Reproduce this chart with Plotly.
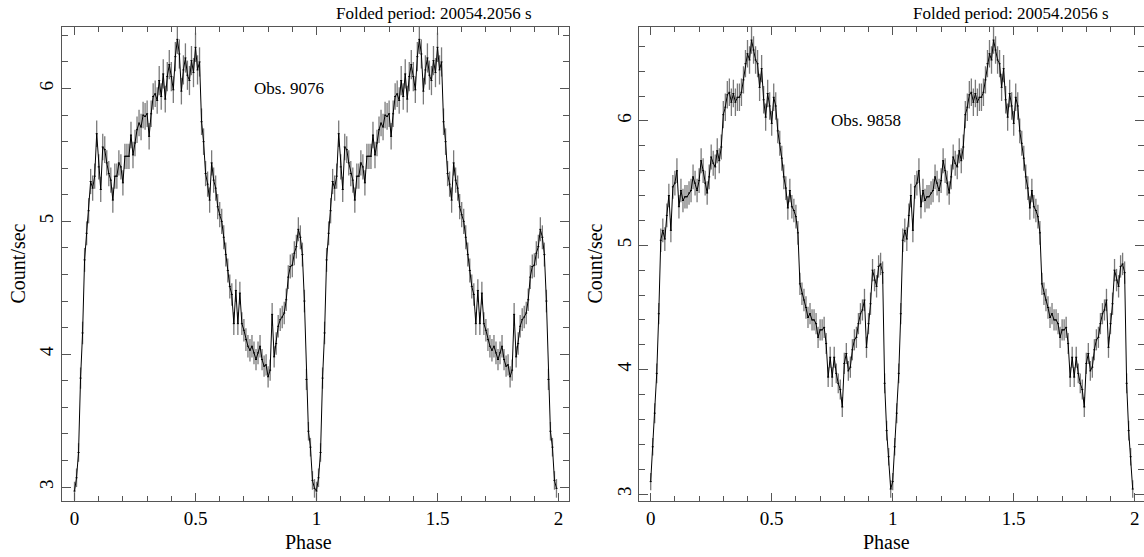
import numpy as np
import plotly.graph_objects as go

# ---------------- data (one folded cycle, 120 phase bins; repeated for phase 1-2) ----------------
N_BINS = 120

rate_9076 = [
    2.97, 3.07, 3.26, 3.82, 4.16, 4.71, 4.91, 5.08, 5.30, 5.25,
    5.34, 5.66, 5.41, 5.24, 5.56, 5.54, 5.44, 5.36, 5.31, 5.16,
    5.34, 5.34, 5.44, 5.41, 5.29, 5.49, 5.49, 5.49, 5.65, 5.50,
    5.59, 5.69, 5.74, 5.71, 5.80, 5.79, 5.81, 5.64, 5.81, 5.94,
    5.96, 5.91, 6.06, 5.94, 6.11, 5.92, 6.09, 6.18, 6.09, 5.99,
    6.24, 6.37, 6.26, 5.98, 6.14, 6.23, 6.10, 6.06, 6.21, 6.12,
    6.31, 6.14, 6.20, 5.75, 5.60, 5.36, 5.28, 5.16, 5.44, 5.31,
    5.25, 5.11, 5.05, 5.00, 4.88, 4.75, 4.63, 4.51, 4.45, 4.23,
    4.48, 4.23, 4.46, 4.23, 4.18, 4.11, 4.06, 4.03, 4.06, 4.01,
    3.96, 4.01, 4.06, 3.96, 3.91, 3.92, 3.83, 3.88, 4.30, 3.98,
    4.08, 4.21, 4.26, 4.28, 4.31, 4.41, 4.58, 4.66, 4.67, 4.76,
    4.81, 4.94, 4.88, 4.75, 4.40, 3.81, 3.42, 3.30, 3.05, 2.99,
]
err_9076 = [
    .07, .07, .07, .08, .085, .09, .09, .095, .095, .095,
    .095, .10, .095, .095, .10, .10, .095, .095, .095, .095,
    .095, .095, .095, .095, .095, .095, .095, .095, .10, .10,
    .10, .10, .10, .10, .10, .10, .10, .10, .10, .10,
    .10, .10, .11, .10, .11, .10, .11, .11, .11, .10,
    .11, .11, .11, .10, .11, .11, .11, .11, .11, .11,
    .11, .11, .11, .10, .10, .095, .095, .095, .095, .095,
    .095, .095, .095, .095, .09, .09, .09, .09, .085, .085,
    .085, .085, .085, .085, .085, .085, .085, .085, .085, .085,
    .08, .085, .085, .08, .08, .08, .08, .08, .085, .08,
    .085, .085, .085, .085, .085, .085, .09, .09, .09, .09,
    .09, .09, .09, .09, .085, .08, .07, .07, .07, .07,
]

rate_9858 = [
    3.10, 3.38, 3.65, 3.97, 4.45, 5.04, 5.12, 5.05, 5.24, 5.40,
    5.12, 5.47, 5.50, 5.60, 5.31, 5.44, 5.36, 5.39, 5.39, 5.42,
    5.44, 5.55, 5.50, 5.44, 5.52, 5.68, 5.60, 5.50, 5.42, 5.55,
    5.71, 5.66, 5.63, 5.76, 5.68, 5.79, 6.05, 6.11, 6.21, 6.23,
    6.15, 6.22, 6.15, 6.19, 6.19, 6.23, 6.33, 6.46, 6.54, 6.49,
    6.65, 6.57, 6.49, 6.46, 6.27, 6.42, 6.17, 6.03, 6.22, 6.12,
    5.98, 6.19, 6.12, 5.92, 5.82, 5.70, 5.55, 5.46, 5.30, 5.44,
    5.31, 5.28, 5.23, 5.10, 4.69, 4.61, 4.56, 4.50, 4.42, 4.45,
    4.40, 4.40, 4.37, 4.26, 4.32, 4.32, 4.34, 4.21, 3.94, 4.10,
    3.94, 4.10, 3.97, 3.89, 3.84, 3.70, 4.05, 4.13, 3.99, 4.02,
    4.16, 4.24, 4.26, 4.37, 4.45, 4.48, 4.56, 4.18, 4.37, 4.53,
    4.80, 4.72, 4.67, 4.83, 4.85, 4.78, 3.89, 3.51, 3.30, 3.04,
]
err_9858 = [
    .07, .07, .08, .08, .085, .095, .095, .095, .095, .095,
    .095, .095, .10, .10, .095, .095, .095, .095, .095, .095,
    .095, .10, .10, .095, .10, .10, .10, .10, .095, .10,
    .10, .10, .10, .10, .10, .10, .11, .11, .11, .11,
    .11, .11, .11, .11, .11, .11, .11, .11, .11, .11,
    .11, .11, .11, .11, .11, .11, .11, .11, .11, .11,
    .10, .11, .11, .10, .10, .10, .10, .095, .095, .095,
    .095, .095, .095, .095, .09, .09, .09, .09, .085, .085,
    .085, .085, .085, .085, .085, .085, .085, .085, .08, .085,
    .08, .085, .08, .08, .08, .08, .085, .085, .08, .085,
    .085, .085, .085, .085, .085, .085, .09, .085, .085, .09,
    .09, .09, .09, .09, .09, .09, .08, .08, .07, .07,
]

obs_labels = ["Obs. 9076", "Obs. 9858"]
period_label = "Folded period: 20054.2056 s"
x_title = "Phase"
y_title = "Count/sec"
x_tickvals = [0, 0.5, 1, 1.5, 2]
x_ticktext = ["0", "0.5", "1", "1.5", "2"]
y_tickvals = [3, 4, 5, 6]
y_ticktext = ["3", "4", "5", "6"]

# ---------------- figure ----------------
phase_one = np.arange(N_BINS) / N_BINS
phase = np.concatenate([phase_one, phase_one + 1.0])

FONT = "Liberation Serif, Times New Roman, serif"
AXC = "#555555"

fig = go.Figure()

panels = [
    dict(rate=rate_9076, err=err_9076, xa="x", ya="y",
         xdom=[62 / 1144, 569 / 1144], xr=[-0.0517, 2.0434], yr=[2.895, 6.463],
         period_x=434 / 1144, phase_x=308 / 1144, ytitle_x=17.5 / 1144, label=obs_labels[0]),
    dict(rate=rate_9858, err=err_9858, xa="x2", ya="y2",
         xdom=[639.3 / 1144, 1.0], xr=[-0.0471, 2.0384], yr=[2.944, 6.755],
         period_x=1011 / 1144, phase_x=886 / 1144, ytitle_x=594.5 / 1144, label=obs_labels[1]),
]

for k, p in enumerate(panels):
    y = np.concatenate([p["rate"], p["rate"]])
    e = np.concatenate([p["err"], p["err"]])
    # error bars (gray vertical, tiny black horizontal)
    fig.add_trace(go.Scatter(
        x=phase, y=y, mode="markers", xaxis=p["xa"], yaxis=p["ya"],
        marker=dict(size=1, color="rgba(0,0,0,0)"),
        error_y=dict(type="data", array=e, color="#7a7a7a", thickness=1.3, width=0),
        error_x=dict(type="constant", value=0.5 / N_BINS, color="#000000", thickness=1, width=0),
        showlegend=False, hoverinfo="skip"))
    # connecting line
    fig.add_trace(go.Scatter(
        x=phase, y=y, mode="lines", xaxis=p["xa"], yaxis=p["ya"],
        line=dict(color="black", width=1), showlegend=False))

    sfx = "" if k == 0 else "2"
    common = dict(showline=True, linecolor=AXC, linewidth=1.2, mirror="allticks",
                  ticks="inside", tickcolor=AXC, tickwidth=1, showgrid=False, zeroline=False,
                  tickfont=dict(family=FONT, size=19, color="black"))
    fig.update_layout(**{
        "xaxis" + sfx: dict(domain=p["xdom"], range=p["xr"], anchor="y" + sfx,
                            tickvals=x_tickvals, ticktext=x_ticktext, ticklen=8,
                            minor=dict(dtick=0.1, tick0=0, ticklen=5, ticks="inside",
                                       tickcolor=AXC, tickwidth=1, showgrid=False),
                            **common),
        "yaxis" + sfx: dict(domain=[0, 1], range=p["yr"], anchor="x" + sfx,
                            tickvals=y_tickvals, ticktext=y_ticktext, ticklen=9, tickangle=-90,
                            minor=dict(dtick=0.2, tick0=0, ticklen=6, ticks="inside",
                                       tickcolor=AXC, tickwidth=1, showgrid=False),
                            **common),
    })

    fig.add_annotation(x=0.735, y=6, xref=p["xa"], yref=p["ya"], text=p["label"],
                       showarrow=False, xanchor="left", yanchor="middle",
                       font=dict(family=FONT, size=17, color="black"))
    fig.add_annotation(x=p["period_x"], y=1, xref="paper", yref="paper", yshift=14,
                       text=period_label, showarrow=False, xanchor="center", yanchor="middle",
                       font=dict(family=FONT, size=17, color="black"))
    fig.add_annotation(x=p["phase_x"], y=0, xref="paper", yref="paper", yshift=-41,
                       text=x_title, showarrow=False, xanchor="center", yanchor="middle",
                       font=dict(family=FONT, size=20, color="black"))
    fig.add_annotation(x=p["ytitle_x"], y=0.5, xref="paper", yref="paper",
                       text=y_title, showarrow=False, textangle=-90,
                       xanchor="center", yanchor="middle",
                       font=dict(family=FONT, size=20, color="black"))

fig.update_layout(
    width=1144, height=557,
    margin=dict(l=0, r=0, t=27, b=56),
    paper_bgcolor="white", plot_bgcolor="white",
    showlegend=False,
)

fig.write_html("out.html", config={"displayModeBar": False},
               post_script="document.body.style.margin='0px';document.body.style.overflow='hidden';")
